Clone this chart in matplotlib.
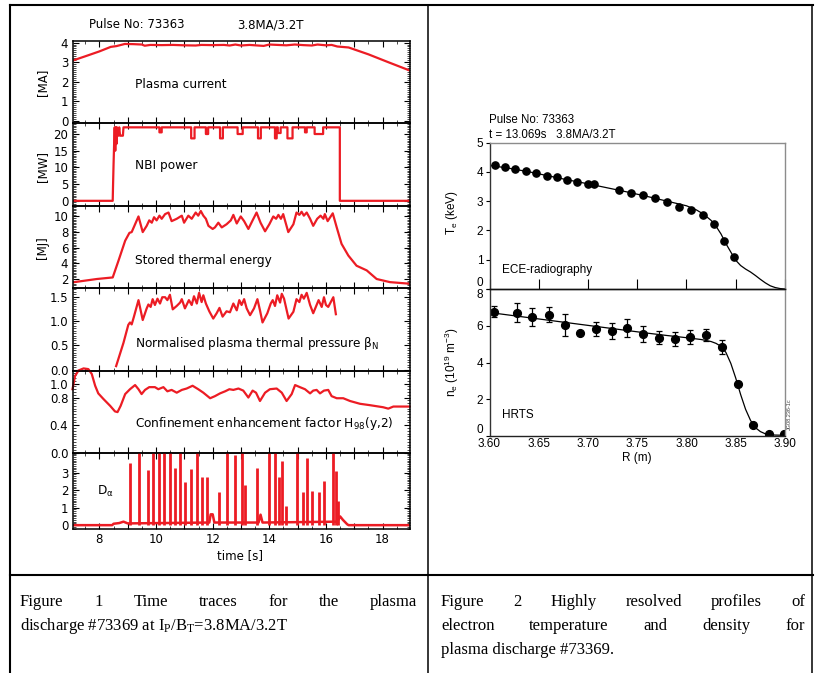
import matplotlib
matplotlib.use("Agg")
import matplotlib.pyplot as plt
from matplotlib.ticker import MultipleLocator, AutoMinorLocator, FuncFormatter
from matplotlib.lines import Line2D

W, H = 815, 673
RED = '#ec1c24'

# ---- figure 1: time traces ----
ip_t = [7.05, 7.5, 8.0, 8.4, 8.6, 8.9, 9.2, 9.5, 9.6, 9.8, 10.2, 10.6, 11.0, 11.4, 11.6, 12.0,
        12.4, 12.6, 12.8, 13.0, 13.3, 13.5, 13.8, 14.0, 14.3, 14.6, 14.9, 15.2, 15.5, 15.7,
        16.0, 16.2, 16.4, 16.8, 17.5, 18.2, 18.95]
ip_v = [3.08, 3.3, 3.55, 3.78, 3.82, 3.93, 3.92, 3.9, 3.84, 3.88, 3.87, 3.88, 3.86, 3.85, 3.88, 3.87,
        3.88, 3.85, 3.9, 3.85, 3.88, 3.86, 3.83, 3.9, 3.88, 3.86, 3.9, 3.87, 3.85, 3.9,
        3.86, 3.88, 3.8, 3.75, 3.4, 3.0, 2.58]

nbi_start_t = [7.05, 8.47, 8.48, 8.50, 8.52, 8.54, 8.56, 8.58, 8.60, 8.62, 8.64, 8.67, 8.70,
               8.73, 8.76, 8.80, 8.83, 8.85]
nbi_start_p = [0, 0, 4, 11, 17, 22, 15, 22, 17, 22, 19.5, 19.5, 22, 19.5, 19.5, 19.5, 19.5, 22]
nbi_on = 22.0
nbi_dips = [(10.12, 10.20, 20.5), (11.24, 11.36, 18.7), (11.76, 11.84, 20.0),
            (12.26, 12.36, 18.7), (12.88, 13.06, 20.0), (13.60, 13.70, 18.7),
            (14.20, 14.26, 18.7), (14.30, 14.40, 20.3), (14.64, 14.82, 18.7),
            (15.26, 15.32, 20.5), (15.60, 15.90, 20.0)]
nbi_off = 16.49

wth_t = [7.05, 7.91, 8.47, 8.67, 8.91, 9.06, 9.14, 9.26, 9.38, 9.53, 9.67, 9.76, 9.85, 9.93,
         10.02, 10.12, 10.2, 10.32, 10.44, 10.55, 10.73, 10.91, 10.99, 11.14, 11.26, 11.4,
         11.49, 11.58, 11.67, 11.76, 11.85, 12.0, 12.08, 12.2, 12.32, 12.49, 12.64, 12.73,
         12.85, 12.99, 13.11, 13.26, 13.41, 13.55, 13.69, 13.85, 14.0, 14.14, 14.24, 14.32,
         14.41, 14.49, 14.67, 14.85, 14.96, 15.06, 15.14, 15.22, 15.32, 15.44, 15.55, 15.69,
         15.81, 15.91, 15.96, 16.06, 16.24, 16.38, 16.55, 16.79, 17.08, 17.44, 17.79, 18.26,
         18.95]
wth_v = [1.57, 2.0, 2.2, 4.3, 6.9, 7.9, 8.0, 9.0, 10.0, 8.0, 8.8, 9.5, 9.2, 9.9,
         9.5, 10.1, 9.7, 10.3, 10.5, 9.4, 9.7, 10.1, 9.2, 10.1, 9.7, 10.5,
         10.1, 10.7, 10.1, 9.7, 8.8, 8.4, 8.6, 9.2, 8.6, 9.0, 9.5, 10.2,
         9.1, 10.0, 9.4, 8.4, 9.5, 10.5, 9.2, 8.1, 9.0, 10.0, 9.7, 10.2,
         9.7, 10.3, 8.0, 9.0, 10.5, 10.2, 10.6, 10.1, 10.5, 9.7, 8.8, 9.7,
         10.1, 9.7, 10.3, 9.4, 10.4, 8.6, 6.5, 5.0, 3.7, 3.1, 2.0, 1.6,
         1.4]

betan_t = [8.59, 8.85, 9.02, 9.08, 9.14, 9.22, 9.38, 9.53, 9.67, 9.73, 9.81, 9.88, 9.96, 10.05,
           10.14, 10.22, 10.32, 10.4, 10.49, 10.59, 10.73, 10.85, 10.91, 11.02, 11.16, 11.26,
           11.34, 11.44, 11.52, 11.61, 11.67, 11.76, 11.88, 12.02, 12.14, 12.24, 12.35, 12.49,
           12.61, 12.73, 12.85, 12.94, 13.02, 13.11, 13.2, 13.32, 13.46, 13.58, 13.67, 13.76,
           13.93, 14.05, 14.12, 14.2, 14.28, 14.38, 14.44, 14.52, 14.68, 14.85, 14.96, 15.06,
           15.14, 15.22, 15.32, 15.44, 15.55, 15.67, 15.74, 15.85, 15.93, 16.0, 16.08, 16.26,
           16.35]
betan_v = [0.07, 0.55, 0.92, 0.97, 0.93, 1.09, 1.43, 1.02, 1.26, 1.34, 1.29, 1.45, 1.33, 1.46,
           1.36, 1.49, 1.49, 1.43, 1.54, 1.24, 1.31, 1.38, 1.45, 1.26, 1.43, 1.33,
           1.51, 1.36, 1.58, 1.39, 1.53, 1.36, 1.2, 1.05, 1.16, 1.27, 1.09, 1.2,
           1.18, 1.36, 1.22, 1.43, 1.33, 1.45, 1.26, 1.12, 1.26, 1.45, 1.22, 0.97,
           1.16, 1.36, 1.43, 1.31, 1.53, 1.38, 1.56, 1.46, 1.05, 1.19, 1.45, 1.39,
           1.54, 1.46, 1.58, 1.33, 1.16, 1.33, 1.43, 1.29, 1.49, 1.33, 1.29, 1.49,
           1.14]

h98_t = [7.05, 7.14, 7.26, 7.44, 7.61, 7.73, 7.85, 7.96, 8.14, 8.38, 8.55, 8.64, 8.75, 8.91,
         9.08, 9.26, 9.38, 9.49, 9.61, 9.76, 9.96, 10.08, 10.26, 10.4, 10.55, 10.73, 10.91,
         11.08, 11.29, 11.49, 11.67, 11.91, 12.08, 12.26, 12.44, 12.59, 12.73, 12.91, 13.08,
         13.26, 13.41, 13.53, 13.67, 13.85, 14.02, 14.26, 14.44, 14.61, 14.79, 14.91, 15.08,
         15.26, 15.44, 15.55, 15.67, 15.79, 15.93, 16.08, 16.2, 16.38, 16.61, 16.85, 17.2,
         17.55, 18.02, 18.2, 18.38, 18.61, 18.95]
h98_v = [0.92, 1.11, 1.19, 1.22, 1.21, 1.14, 0.97, 0.86, 0.78, 0.68, 0.6, 0.59, 0.68, 0.85,
         0.92, 0.98, 0.92, 0.85, 0.91, 0.95, 0.95, 0.92, 0.95, 0.89, 0.91, 0.87, 0.91,
         0.93, 0.97, 0.92, 0.87, 0.79, 0.82, 0.86, 0.89, 0.92, 0.91, 0.93, 0.9,
         0.8, 0.9, 0.87, 0.75, 0.87, 0.92, 0.93, 0.87, 0.75, 0.85, 0.98, 0.95,
         0.92, 0.86, 0.9, 0.91, 0.86, 0.9, 0.91, 0.82, 0.79, 0.79, 0.75, 0.71,
         0.69, 0.66, 0.64, 0.67, 0.67, 0.67]

da_base_t = [7.05, 8.45, 8.5, 8.7, 8.85, 9.0, 11.88, 11.93, 12.0, 12.06, 13.62, 13.69, 13.76,
             16.4, 16.5, 16.6, 16.75, 16.8, 18.95]
da_base_v = [0, 0, 0.08, 0.12, 0.2, 0.1, 0.15, 0.62, 0.62, 0.15, 0.15, 0.6, 0.15,
             0.2, 0.5, 0.3, 0.05, 0, 0]
da_spike_t = [9.08, 9.41, 9.73, 9.91, 10.11, 10.28, 10.49, 10.68, 10.85, 11.02, 11.22, 11.44,
              11.61, 11.79, 12.24, 12.49, 12.79, 13.02, 13.14, 13.55, 14.0, 14.2, 14.35,
              14.46, 14.59, 14.96, 15.18, 15.34, 15.49, 15.76, 15.93, 16.26, 16.35, 16.44]
da_spike_h = [3.55, 4.3, 3.16, 4.3, 4.3, 4.3, 4.3, 3.25, 4.3, 2.47, 3.22, 4.3,
              2.76, 2.76, 1.88, 4.3, 4.0, 4.3, 2.27, 3.29, 4.3, 4.3, 2.76,
              3.65, 1.1, 4.3, 1.88, 3.84, 1.98, 1.88, 2.51, 4.3, 3.1, 1.39]

# ---- figure 2: profiles ----
te_r = [3.6054, 3.6159, 3.626, 3.6368, 3.6476, 3.6581, 3.6686, 3.6787, 3.6892, 3.700, 3.7057,
        3.731, 3.7432, 3.7554, 3.7679, 3.7804, 3.7922, 3.8047, 3.8166, 3.8284, 3.8382, 3.848]
te_v = [4.23, 4.18, 4.08, 4.02, 3.97, 3.86, 3.82, 3.72, 3.65, 3.60, 3.58,
        3.37, 3.29, 3.20, 3.11, 2.97, 2.81, 2.69, 2.54, 2.23, 1.65, 1.08]
te_fit_r = [3.60, 3.62, 3.64, 3.66, 3.68, 3.70, 3.72, 3.74, 3.76, 3.78, 3.80, 3.81, 3.815,
            3.82, 3.825, 3.83, 3.835, 3.84, 3.845, 3.85, 3.855, 3.86, 3.865, 3.87, 3.875,
            3.88, 3.885, 3.89, 3.895, 3.90]
te_fit_v = [4.22, 4.12, 4.00, 3.86, 3.72, 3.59, 3.45, 3.31, 3.16, 3.00, 2.84, 2.70, 2.60,
            2.48, 2.34, 2.14, 1.88, 1.55, 1.26, 0.98, 0.80, 0.68, 0.58, 0.46, 0.33,
            0.21, 0.11, 0.05, 0.015, 0.0]

ne_r = [3.6044, 3.6282, 3.6434, 3.66, 3.6763, 3.6923, 3.7082, 3.7241, 3.74, 3.756, 3.7723,
        3.7879, 3.8038, 3.82, 3.836, 3.8519, 3.8678, 3.884, 3.8993]
ne_v = [6.76, 6.72, 6.47, 6.61, 6.03, 5.58, 5.83, 5.71, 5.87, 5.56, 5.36,
        5.29, 5.40, 5.49, 4.84, 2.81, 0.61, 0.13, 0.09]
ne_err = [0.31, 0.53, 0.48, 0.41, 0.59, 0.0, 0.39, 0.45, 0.49, 0.43, 0.38,
          0.39, 0.39, 0.32, 0.36, 0.0, 0.0, 0.0, 0.0]
ne_fit_r = [3.60, 3.62, 3.64, 3.66, 3.68, 3.70, 3.72, 3.74, 3.76, 3.78, 3.80, 3.815, 3.825,
            3.83, 3.835, 3.84, 3.845, 3.85, 3.855, 3.86, 3.865, 3.87, 3.875, 3.88, 3.885,
            3.89, 3.90]
ne_fit_v = [6.72, 6.58, 6.44, 6.30, 6.16, 6.02, 5.88, 5.74, 5.60, 5.47, 5.35, 5.25, 5.14,
            5.04, 4.88, 4.55, 3.95, 3.15, 2.25, 1.45, 0.85, 0.45, 0.24, 0.12, 0.07,
            0.05, 0.04]

fig = plt.figure(figsize=(W / 100, H / 100), dpi=100)


def rect(x0, y0, x1, y1):
    return [x0 / W, 1 - y1 / H, (x1 - x0) / W, (y1 - y0) / H]


def ftext(x, y, s, **kw):
    return fig.text(x / W, 1 - y / H, s, **kw)


# left column: six stacked panels
edges = [41, 123, 205.5, 288, 370.5, 453, 529]
axs = [fig.add_axes(rect(72.5, edges[i], 409.5, edges[i + 1])) for i in range(6)]
ylims = [(-0.1, 4.08), (-1.4, 23.3), (0.85, 11.4), (-0.02, 1.68), (0.0, 1.19), (-0.22, 4.13)]
yticks = [[0, 1, 2, 3, 4], [0, 5, 10, 15, 20], [2, 4, 6, 8, 10], [0.0, 0.5, 1.0, 1.5],
          [0.0, 0.4, 0.8, 1.0], [0, 1, 2, 3]]
yfmt = ['%d', '%d', '%d', '%.1f', '%.1f', '%d']

for i, ax in enumerate(axs):
    ax.set_xlim(7.05, 18.95)
    ax.set_ylim(*ylims[i])
    ax.set_yticks(yticks[i])
    ax.yaxis.set_major_formatter(FuncFormatter(lambda v, p, f=yfmt[i]: f % v))
    ax.yaxis.set_minor_locator(AutoMinorLocator(10))
    ax.xaxis.set_major_locator(MultipleLocator(1))
    ax.xaxis.set_minor_locator(MultipleLocator(0.5))
    ax.tick_params(which='both', direction='in', top=True, right=True, labelsize=8.5, pad=3)
    ax.tick_params(which='major', length=4, width=0.8)
    ax.tick_params(which='minor', length=2.2, width=0.5)
    for s in ax.spines.values():
        s.set_linewidth(1.1)
    if i < 5:
        ax.tick_params(labelbottom=False)
    ax.patch.set_alpha(0)

axs[5].xaxis.set_major_formatter(FuncFormatter(lambda v, p: '%d' % round(v) if round(v) % 2 == 0 else ''))

axs[0].plot(ip_t, ip_v, color=RED, lw=1.6)

nbi_t, nbi_p = list(nbi_start_t), list(nbi_start_p)
for a, b, lv in nbi_dips:
    nbi_t += [a, a, b, b]
    nbi_p += [nbi_on, lv, lv, nbi_on]
nbi_t += [nbi_off, nbi_off, 18.95]
nbi_p += [nbi_on, 0, 0]
axs[1].plot(nbi_t, nbi_p, color=RED, lw=1.6)

axs[2].plot(wth_t, wth_v, color=RED, lw=1.6)
axs[3].plot(betan_t, betan_v, color=RED, lw=1.6)
axs[4].plot(h98_t, h98_v, color=RED, lw=1.6, clip_on=False)
axs[5].plot(da_base_t, da_base_v, color=RED, lw=1.8)
axs[5].vlines(da_spike_t, 0, da_spike_h, color=RED, lw=2.0)

ftext(89, 25, 'Pulse No: 73363', fontsize=8.5, va='center')
ftext(237, 25, '3.8MA/3.2T', fontsize=8.5, va='center')
ftext(135, 84, 'Plasma current', fontsize=8.7, va='center')
ftext(135, 165, 'NBI power', fontsize=8.7, va='center')
ftext(135, 261, 'Stored thermal energy', fontsize=8.7, va='center')
ftext(135, 344, r'Normalised plasma thermal pressure $\mathregular{\beta_N}$', fontsize=8.7, va='center')
ftext(135, 423, r'Confinement enhancement factor H$\mathregular{_{98}}$(y,2)', fontsize=8.7, va='center')
ftext(97, 491, r'D$\mathregular{_\alpha}$', fontsize=8.7, va='center')
for y, s in [(82, '[MA]'), (166, '[MW]'), (248, '[MJ]')]:
    ftext(43, y, s, fontsize=8.5, rotation=90, ha='center', va='center')
ftext(240, 556, 'time [s]', fontsize=8.5, ha='center', va='center')

# right column: Te and ne profiles
SF = 'Liberation Sans'
ax_te = fig.add_axes(rect(489.5, 142.5, 785, 289))
ax_ne = fig.add_axes(rect(489.5, 289, 785, 436))

ax_te.plot(te_fit_r, te_fit_v, color='black', lw=0.9)
ax_te.plot(te_r, te_v, 'o', color='black', ms=5.2)
ax_ne.plot(ne_fit_r, ne_fit_v, color='black', lw=0.9)
ax_ne.errorbar(ne_r, ne_v, yerr=ne_err, fmt='o', color='black', ms=5.6,
               elinewidth=0.9, capsize=2.3, capthick=0.9)

for ax in (ax_te, ax_ne):
    ax.set_xlim(3.60, 3.90)
    ax.tick_params(axis='y', direction='out', length=3, width=0.8, pad=1.5)
    ax.spines['left'].set_color('#333333')
    ax.spines['bottom'].set_color('#222222')
    ax.spines['right'].set_color('#8c8c8c')
    ax.spines['top'].set_color('#8c8c8c')
    for s in ax.spines.values():
        s.set_linewidth(1.0)
    ax.patch.set_alpha(0)

ax_te.set_ylim(0, 5)
ax_te.set_yticks([0, 1, 2, 3, 4, 5], labels=['0', '1', '2', '3', '4', '5'], family=SF, fontsize=8.5)
ax_te.set_xticks([3.60, 3.65, 3.70, 3.75, 3.80, 3.85, 3.90])
ax_te.tick_params(axis='x', direction='in', length=7, width=0.8, labelbottom=False)
ax_te.get_yticklabels()[0].set_va('bottom')

ax_ne.set_ylim(0, 8)
ax_ne.set_yticks([0, 2, 4, 6, 8], labels=['0', '2', '4', '6', '8'], family=SF, fontsize=8.5)
ax_ne.get_yticklabels()[-1].set_va('top')
ax_ne.get_yticklabels()[0].set_va('bottom')
ax_ne.set_xticks([3.60, 3.65, 3.70, 3.75, 3.80, 3.85, 3.90],
                 labels=['3.60', '3.65', '3.70', '3.75', '3.80', '3.85', '3.90'], family=SF, fontsize=8.5)
ax_ne.tick_params(axis='x', length=0, pad=1.5)
ax_ne.spines['top'].set_color('#111111')

ftext(489, 120, 'Pulse No: 73363', family=SF, fontsize=8.3, va='center')
ftext(489, 135, 't = 13.069s   3.8MA/3.2T', family=SF, fontsize=8.3, va='center')
ftext(452, 213, r'T$\mathregular{_e}$ (keV)', family=SF, fontsize=8.5, rotation=90, ha='center', va='center')
ftext(452, 362, r'n$\mathregular{_e}$ (10$\mathregular{^{19}}$ m$\mathregular{^{-3}}$)', family=SF,
      fontsize=8.5, rotation=90, ha='center', va='center')
ftext(637, 458, 'R (m)', family=SF, fontsize=8.5, ha='center', va='center')
ftext(502, 270, 'ECE-radiography', family=SF, fontsize=8.5, va='center')
ftext(502, 415, 'HRTS', family=SF, fontsize=8.5, va='center')
ftext(789, 414, 'JG08.236-1c', family=SF, fontsize=4, rotation=90, ha='center', va='center', color='#444444')

# table frame
for (x0, y0, x1, y1, lw) in [(10, 5, 813, 5, 1.5), (10, 5, 10, 673, 1.5), (428, 5, 428, 673, 1.1),
                             (10, 575, 813, 575, 1.5), (812, 5, 812, 673, 1.1)]:
    fig.add_artist(Line2D([x0 / W, x1 / W], [1 - y0 / H, 1 - y1 / H], color='black', lw=lw))

# captions
SERIF = 'Liberation Serif'
CS = 12
renderer = fig.canvas.get_renderer()


def justify(words, x0, x1, y):
    texts = [ftext(0, y, w, family=SERIF, fontsize=CS, va='baseline') for w in words]
    widths = [t.get_window_extent(renderer).width for t in texts]
    gap = ((x1 - x0) - sum(widths)) / (len(words) - 1)
    x = x0
    for t, w in zip(texts, widths):
        t.set_x(x / W)
        x += w + gap


justify('Figure 1 Time traces for the plasma'.split(), 20, 417, 606)
ftext(20, 630, r'discharge #73369 at I$\mathregular{_P}$/B$\mathregular{_T}$=3.8MA/3.2T',
      family=SERIF, fontsize=CS, va='baseline')
justify('Figure 2 Highly resolved profiles of'.split(), 441, 805, 606)
justify('electron temperature and density for'.split(), 441, 805, 630)
ftext(441, 653.5, 'plasma discharge #73369.', family=SERIF, fontsize=CS, va='baseline')

fig.savefig('out.png', dpi=100)
